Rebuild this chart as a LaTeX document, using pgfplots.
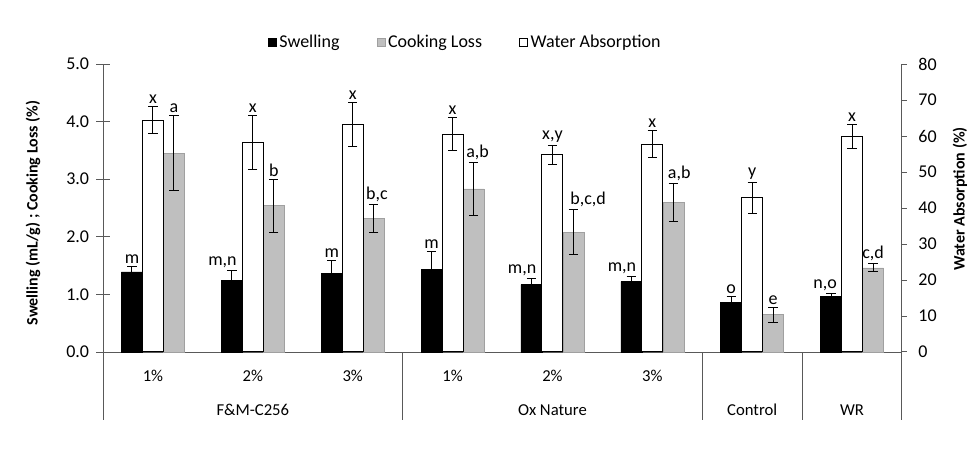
\documentclass[border=0pt]{standalone}
\usepackage{pgfplots}
\pgfplotsset{compat=1.18}
\usepackage{pgfplotstable}
\usepackage{fontspec}
\setmainfont{Carlito}
\newcommand\fs{\fontsize{13.5}{16}\selectfont}
\newcommand\fc{\fontsize{12.5}{15}\selectfont}
\newcommand\fl{\fontsize{12}{14}\selectfont\bfseries}
\definecolor{axcol}{RGB}{89,89,89}
\definecolor{cookfill}{RGB}{191,191,191}
\definecolor{cookedge}{RGB}{160,160,160}

% swelling (left axis); dx = label nudge in pt
\pgfplotstableread{
x y err lab dx
-0.21 1.39 0.09 m 0
0.79 1.24 0.17 m,n -7
1.79 1.37 0.22 m 0
2.79 1.44 0.31 m 0
3.79 1.17 0.11 m,n -7
4.79 1.22 0.09 m,n -7
5.79 0.86 0.11 o 0
6.79 0.96 0.05 n,o -4.5
}\swell

% cooking loss (left axis)
\pgfplotstableread{
x y err lab dx
0.21 3.45 0.65 a 0
1.21 2.54 0.46 b 0
2.21 2.32 0.24 b,c 2.5
3.21 2.83 0.46 a,b 3
4.21 2.08 0.39 b,c,d 11
5.21 2.60 0.33 a,b 4.5
6.21 0.65 0.13 e 0
7.21 1.46 0.07 c,d 0
}\cook

% water absorption (right axis)
\pgfplotstableread{
x y err lab dx
0 64.4 3.7 x 0
1 58.2 7.4 x 0
2 63.2 6.1 x 0
3 60.5 4.6 x 0
4 54.8 2.7 x,y 0
5 57.7 3.8 x 0
6 42.8 4.2 y 0
7 59.8 3.3 x 0
}\water

\pgfplotsset{
  base/.style={
    scale only axis, width=599.25pt, height=216pt,
    at={(77.25pt,76.5pt)}, anchor=south west,
    xmin=-0.5, xmax=7.5, clip=false,
    tick label style={font=\fs},
    label style={font=\fl},
    /pgf/number format/assume math mode=true,
    axis line style={axcol, line width=0.75pt},
    tick style={axcol, line width=0.75pt},
  },
  errs/.style={
    error bars/.cd, y dir=both, y explicit,
    error bar style={black, line width=0.75pt},
    error mark options={rotate=90, mark size=3.5pt, black, line width=0.75pt},
  },
  labs/.style={
    forget plot, draw=none, mark=none, nodes near coords,
    point meta=explicit symbolic,
    visualization depends on={\thisrow{dx} \as \dx},
    nodes near coords style={font=\fs, text=black, anchor=south, inner sep=2pt, xshift=\dx pt},
  },
}

\begin{document}
\begin{tikzpicture}
\useasboundingbox (0,0) rectangle (732pt,340.5pt);

\begin{axis}[base,
    ymin=0, ymax=5, ytick={0,1,2,3,4,5},
    yticklabel style={xshift=-2pt, /pgf/number format/.cd, fixed, fixed zerofill, precision=1},
    axis x line*=bottom, axis y line*=left,
    tick align=center, major tick length=9.75pt,
    xtick={0,...,7}, xticklabels={1\%,2\%,3\%,1\%,2\%,3\%,{},{}},
    xtick style={draw=none},
    xticklabel style={font=\fc, anchor=base, yshift=-17pt},
    ylabel={Swelling (mL/g) ; Cooking Loss (\%)},
    ylabel style={at={(rel axis cs:-0.0876,0.4826)}, anchor=center},
    legend columns=3,
    legend style={at={(rel axis cs:0.454,1.076)}, anchor=center, draw=none, fill=none,
      font=\fs, nodes={inner xsep=2pt},
      /tikz/every even column/.append style={column sep=26pt}},
  ]
  \addlegendimage{legend image code/.code={\draw[fill=black, draw=black] (0pt,-3pt) rectangle (6pt,3pt);}}
  \addlegendentry{Swelling}
  \addlegendimage{legend image code/.code={\draw[fill=cookfill, draw=cookedge] (0pt,-3pt) rectangle (6pt,3pt);}}
  \addlegendentry{Cooking Loss}
  \addlegendimage{legend image code/.code={\draw[fill=white, draw=black] (0pt,-3pt) rectangle (6pt,3pt);}}
  \addlegendentry{Water Absorption}

  \addplot[forget plot, ybar, bar width=0.21, bar shift=0pt, fill=black, draw=black, errs]
    table[x=x, y=y, y error=err] {\swell};
  \addplot[forget plot, ybar, bar width=0.21, bar shift=0pt, fill=cookfill, draw=cookedge, errs]
    table[x=x, y=y, y error=err] {\cook};

  % group separators below the category axis
  \draw[axcol, line width=0.75pt] (axis cs:-0.5,0) -- ++(0pt,-51pt);
  \draw[axcol, line width=0.75pt] (axis cs:2.5,0) -- ++(0pt,-51pt);
  \draw[axcol, line width=0.75pt] (axis cs:5.5,0) -- ++(0pt,-51pt);
  \draw[axcol, line width=0.75pt] (axis cs:6.5,0) -- ++(0pt,-51pt);
  \draw[axcol, line width=0.75pt] (axis cs:7.5,0) -- ++(0pt,-51pt);

  \node[font=\fc, anchor=base, yshift=-47.25pt] at (axis cs:1,0) {F\&M-C256};
  \node[font=\fc, anchor=base, yshift=-47.25pt] at (axis cs:4,0) {Ox Nature};
  \node[font=\fc, anchor=base, yshift=-47.25pt] at (axis cs:6,0) {Control};
  \node[font=\fc, anchor=base, yshift=-47.25pt] at (axis cs:7,0) {WR};
\end{axis}

\begin{axis}[base,
    ymin=0, ymax=80, ytick={0,10,...,80},
    yticklabel style={xshift=5pt},
    axis y line*=right, axis x line=none,
    tick align=outside, major tick length=3.75pt,
    ylabel={Water Absorption (\%)},
    ylabel style={at={(rel axis cs:1.0726,0.531)}, anchor=center},
  ]
  \addplot[forget plot, ybar, bar width=0.21, bar shift=0pt, fill=white, draw=black, line width=0.75pt, errs]
    table[x=x, y=y, y error=err] {\water};
  % letter labels, all drawn last (left-axis values scaled by 80/5)
  \addplot[labs] table[x=x, y expr=\thisrow{y}+\thisrow{err}, meta=lab] {\water};
  \addplot[labs] table[x=x, y expr=16*(\thisrow{y}+\thisrow{err}), meta=lab] {\swell};
  \addplot[labs] table[x=x, y expr=16*(\thisrow{y}+\thisrow{err}), meta=lab] {\cook};
\end{axis}
\end{tikzpicture}
\end{document}
